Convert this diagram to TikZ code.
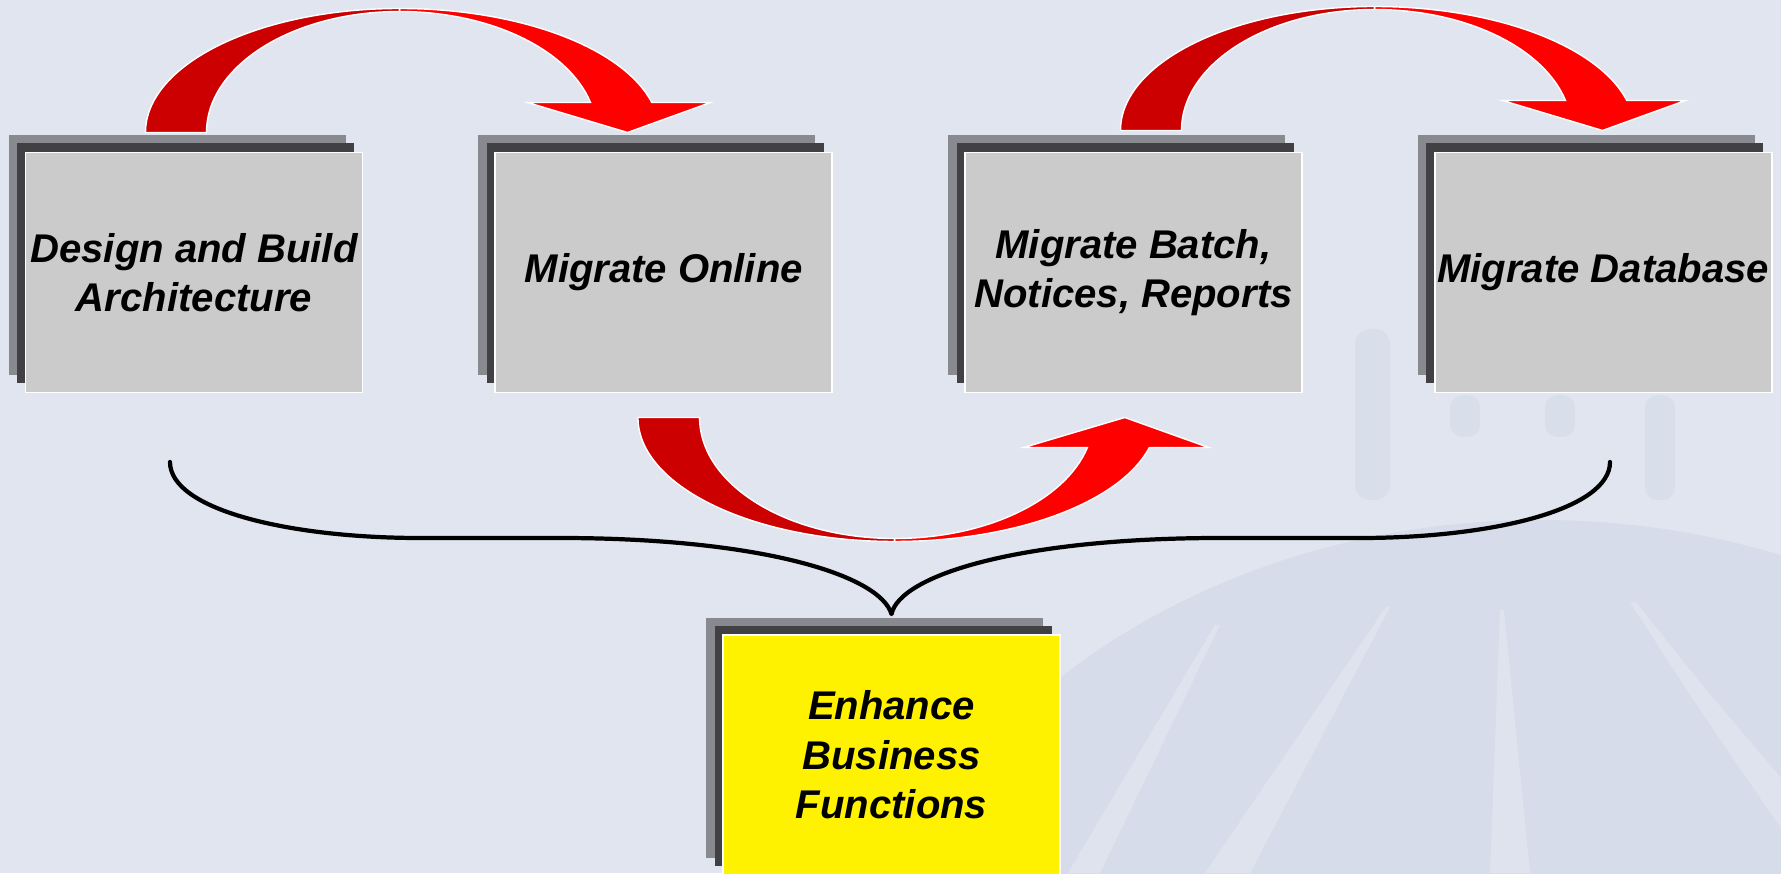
\documentclass[tikz,border=0pt]{standalone}
\usepackage{fontspec}
\setmainfont{Liberation Sans}
\usetikzlibrary{positioning,shadows}

\definecolor{bgblue}{HTML}{E0E5F0}
\definecolor{domeblue}{HTML}{D6DCE9}
\definecolor{pillar}{HTML}{CFD9E6}
\definecolor{boxgray}{HTML}{CBCBCB}
\definecolor{shadelight}{HTML}{888A90}
\definecolor{shadedark}{HTML}{404045}
\definecolor{tailred}{HTML}{CC0000}
\definecolor{headred}{HTML}{FF0000}

% bent arrow, apex at the origin of the scope, tail on the left
\newcommand{\turnarrow}[1]{%
\begin{scope}[#1]
\fill[tailred, draw=white, line width=0.8pt]
  (-5.08,0) arc[start angle=180, end angle=90, x radius=5.08, y radius=2.48]
  -- (0,2.42) arc[start angle=90, end angle=180, x radius=3.86, y radius=2.42] -- cycle;
\fill[headred, draw=white, line width=0.8pt]
  (0,2.48) arc[start angle=90, end angle=14, x radius=5.2, y radius=2.48]
  -- (6.22,0.6) -- (4.56,0) -- (2.56,0.6) -- (3.82,0.6)
  arc[start angle=14.36, end angle=90, x radius=3.94, y radius=2.42] -- cycle;
\end{scope}}

\begin{document}
\begin{tikzpicture}[
  phase/.style={rectangle, fill=boxgray, draw=white, line width=1pt,
    minimum width=6.74cm, minimum height=4.8cm, inner sep=0pt, align=center,
    font=\bfseries\itshape\fontsize{22.8}{28.2}\selectfont,
    general shadow={fill=shadelight, shadow xshift=-0.34cm, shadow yshift=0.34cm},
    general shadow={fill=shadedark, shadow xshift=-0.17cm, shadow yshift=0.18cm}},
  brace/.style={line width=2.4pt, line cap=round, line join=round}
]
\useasboundingbox (0,0) rectangle (35.62,17.46);
\fill[bgblue] (0,0) rectangle (35.62,17.46);

% faint road and columns behind
\fill[domeblue] (30.8,-4.54) ellipse[x radius=14, y radius=11.6];
\fill[white, opacity=.22] (27.72,5.32) -- (27.8,5.32) -- (25,0) -- (24.1,0) -- cycle;
\fill[white, opacity=.22] (30,5.26) -- (30.08,5.26) -- (30.6,0) -- (29.8,0) -- cycle;
\fill[white, opacity=.22] (24.3,4.96) -- (24.4,4.96) -- (22,0) -- (21.36,0) -- cycle;
\fill[white, opacity=.22] (32.6,5.42) -- (32.72,5.42) .. controls (34,3.8) .. (35.62,1.9)
  -- (35.62,0.9) .. controls (33.9,3.4) .. cycle;
\fill[pillar, opacity=.45, rounded corners=0.3cm] (27.1,7.46) rectangle (27.8,10.88);
\fill[pillar, opacity=.45, rounded corners=0.25cm] (29,8.72) rectangle (29.6,9.56);
\fill[pillar, opacity=.45, rounded corners=0.25cm] (30.9,8.72) rectangle (31.5,9.56);
\fill[pillar, opacity=.45, rounded corners=0.25cm] (32.9,7.46) rectangle (33.5,9.56);

% the phases
\node[phase] (design) at (3.88,12.01) {Design and Build\\Architecture};
\node[phase, right=2.62cm of design] (online) {Migrate Online};
\node[phase, right=2.62cm of online] (batch) {Migrate Batch,\\Notices, Reports};
\node[phase, right=2.62cm of batch] (database) {Migrate Database};
\node[phase, fill=yellow] (enhance) at (17.83,2.36) {Enhance\\Business\\Functions};

% arrows between the phases
\turnarrow{shift={(7.99,14.81)}}
\turnarrow{shift={(27.49,14.85)}}
\turnarrow{shift={(17.89,9.11)}, yscale=-1, xscale=1.01}

% brace down to the last phase
\coordinate (bl) at (3.4,8.22);
\coordinate (br) at (32.2,8.22);
\coordinate (tip) at ([yshift=0.4cm]enhance.north);
\draw[brace] (bl) .. controls (3.4,7.26) and (5.8,6.7) .. (8.4,6.7) -- (11.2,6.7)
  .. controls (15.2,6.7) and (17.6,5.96) .. (tip)
  .. controls (18.0,5.96) and (20.4,6.7) .. (24.4,6.7) -- (27.2,6.7)
  .. controls (29.8,6.7) and (32.2,7.26) .. (br);
\end{tikzpicture}
\end{document}
